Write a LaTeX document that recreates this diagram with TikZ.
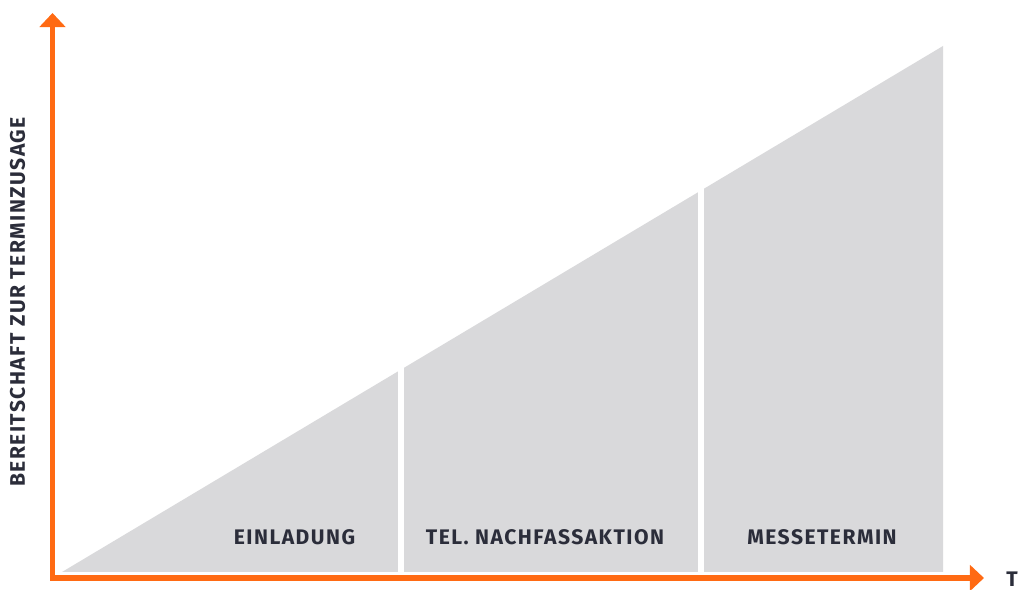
\documentclass[tikz,border=0pt]{standalone}
\usepackage{fontspec}
\setmainfont{Fira Sans}
\usetikzlibrary{arrows.meta}

\definecolor{axisorange}{HTML}{FF6A13}
\definecolor{phasegray}{HTML}{D9D9DB}
\definecolor{labelink}{HTML}{2B2D3A}

\begin{document}
\begin{tikzpicture}[
    x=0.02cm, y=-0.02cm,
    axis/.style = {draw=axisorange, line width=3.1pt, line join=miter},
    gap/.style = {draw=white, line width=3.4pt},
    phase/.style = {text=labelink, inner sep=0pt,
      font=\bfseries\fontsize{12}{14}\selectfont\addfontfeatures{LetterSpace=7}},
    >={Triangle[length=8pt, width=14.5pt]}
  ]
  \useasboundingbox (0,0) rectangle (1018,590);

  \coordinate (O) at (52.5,578);
  \coordinate (Ytip) at (52.5,13);
  \coordinate (Xtip) at (984,578);

  % rising area, split into three phases
  \fill[phasegray] (62,572) -- (943,46) -- (943,572) -- cycle;
  \draw[gap] (401,330) -- (401,573);
  \draw[gap] (701,150) -- (701,573);

  \draw[axis, <->] (Ytip) -- (O) -- (Xtip);

  \node[phase] (Einl) at (294.5,537) {EINLADUNG};
  \node[phase] (Tel) at (545,537) {TEL. NACHFASSAKTION};
  \node[phase] (Messe) at (822,537) {MESSETERMIN};

  \node[phase, rotate=90] (Ylabel) at (17.5,302) {BEREITSCHAFT ZUR TERMINZUSAGE};
  \node[phase] (Xlabel) at (1012,579) {T};

\end{tikzpicture}
\end{document}
